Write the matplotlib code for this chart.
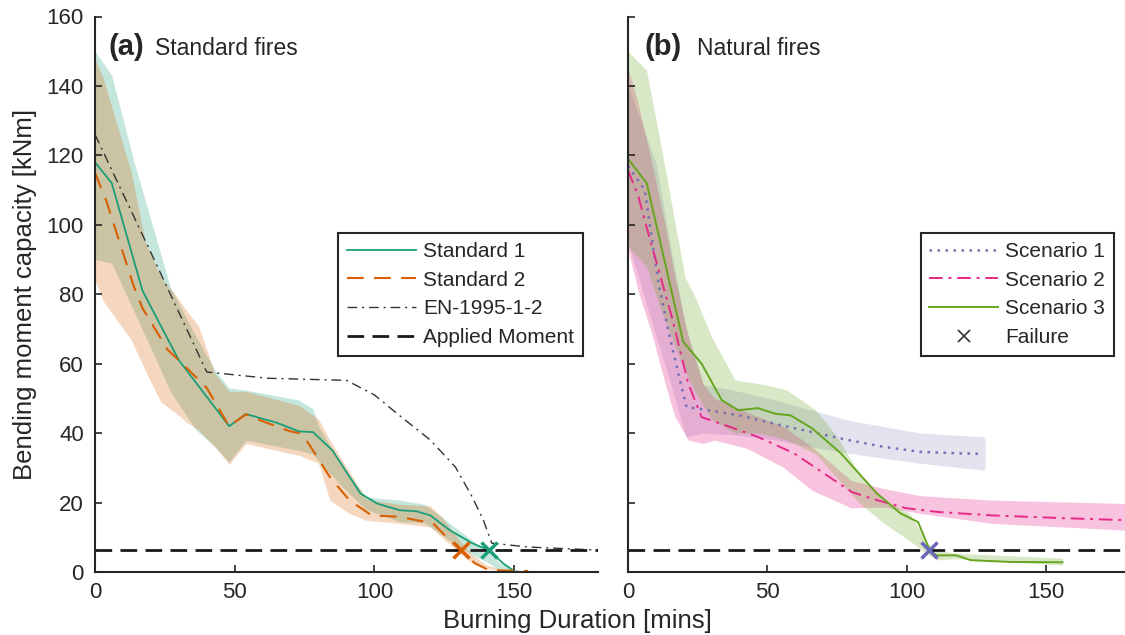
import matplotlib
matplotlib.use("Agg")
import matplotlib.pyplot as plt
from matplotlib.lines import Line2D

plt.rcParams["font.family"] = ["Liberation Sans", "DejaVu Sans"]
plt.rcParams["text.color"] = "#262626"
plt.rcParams["axes.labelcolor"] = "#262626"

# ---- (a) standard fires ----
std1_x = [0, 6, 17, 30, 48, 54, 65, 73, 78, 85, 95, 101, 109, 115, 120, 127, 135, 141, 146, 150]
std1_y = [118, 112, 81, 61, 42, 45.5, 43, 40.5, 40.3, 35, 22.6, 19.7, 17.8, 17.5, 16.3, 12, 8.3, 6.25, 2.5, 0.3]
std1_bx = [0, 6, 14, 27, 36, 43, 48, 54, 73, 78, 80, 88, 97, 109, 118, 127, 135, 141, 145, 149, 155]
std1_hi = [150, 143, 118, 82, 68, 58, 53, 52.4, 49.5, 47, 42, 31, 21.6, 20.7, 19.5, 14, 9.1, 5.4, 2.5, 1, 0]
std1_lo = [90, 89, 75, 52, 41, 36, 31.7, 38, 35, 34, 32, 25, 18, 14.5, 14.2, 9, 5, 2.5, 0.5, 0, 0]

std2_x = [0, 4, 14, 17, 26, 30, 40, 48, 54, 62, 70, 73, 76, 78, 84, 91, 99, 109, 121, 127, 131, 136, 141, 155]
std2_y = [115, 107, 82, 76, 64, 61, 53, 42, 45.4, 42.8, 40.5, 40, 37.5, 35, 27.4, 20.7, 16.3, 15.9, 14, 9.1, 6.25, 2.5, 0.5, 0.3]
std2_bx = [0, 3, 13, 18, 23.5, 28.6, 33, 37, 43, 48, 54, 73, 80, 84, 91, 97, 109, 120, 124, 130.5, 135, 140, 150]
std2_hi = [148, 142, 115, 95, 85, 80, 75, 71, 57, 52, 52, 48, 44, 38, 29, 21, 19.5, 19, 16, 9, 5, 2, 0]
std2_lo = [84, 78, 66.8, 58, 49, 46, 43, 41, 36, 31, 37, 33.6, 31.3, 20.7, 16.9, 14.9, 14, 13, 10.1, 5.4, 2.5, 1, 0]

en_x = [0, 20, 40, 62, 90, 100, 108, 120, 129, 135, 139, 142, 155, 180]
en_y = [126, 92, 57.6, 55.8, 55.2, 51, 45.7, 38, 30.2, 21.6, 14.9, 8.3, 7.2, 6.3]

applied_moment = 6.25
fail_std = [(141, "#1b9e77"), (131, "#d95f02")]

# ---- (b) natural fires ----
sc1_x = [0, 6, 11, 14.4, 18.6, 21, 28.8, 40, 53, 66, 79, 92, 105, 118, 127]
sc1_y = [117, 110, 83, 69.7, 55.3, 47.5, 46.6, 45.1, 42.6, 40.3, 38, 36, 34.6, 34.2, 34]
sc1_bx = [0, 10, 15, 20.8, 27, 40, 53, 66, 79, 105, 128]
sc1_hi = [140, 118, 95, 70, 54, 52, 49.5, 46.6, 43.7, 40, 38.9]
sc1_lo = [95, 68, 55, 38.9, 40, 39.4, 38, 36, 34.2, 31.3, 29.3]

sc2_x = [0, 3.7, 7.3, 15.7, 21.6, 26.4, 34.8, 46.6, 59.5, 68.6, 80.3, 89.3, 99.6, 111, 130.6, 156.5, 180]
sc2_y = [115.7, 108.2, 97.5, 73.5, 54.3, 44.6, 42.3, 38.9, 34.2, 29.3, 23, 20.7, 18.4, 17.3, 16.3, 15.5, 14.9]
sc2_bx = [0, 3.6, 8.5, 13.3, 16.8, 21.6, 27, 31, 42.7, 55.6, 66, 80, 91.8, 104.6, 130.6, 180]
sc2_hi = [145, 135, 118, 100, 85, 68, 54, 50, 46, 42, 36, 26.4, 24, 22, 20.7, 19.7]
sc2_lo = [93, 81, 68.7, 54.3, 44.7, 38, 37, 38, 35.6, 30.2, 23.5, 18.5, 18.7, 16.9, 14, 12]

sc3_x = [0, 6.7, 19.8, 26.4, 33.6, 39.5, 46.6, 52.7, 58.3, 66, 76.3, 89.3, 97.7, 104, 108.2, 110.6, 117.7, 122.9, 137, 155.8]
sc3_y = [119, 112, 66.3, 60, 49.5, 46.6, 47.2, 45.6, 45.1, 41.4, 34.2, 22.6, 16.9, 14.4, 6.25, 4.8, 4.8, 3.4, 2.9, 2.8]
sc3_bx = [0, 6.6, 12, 20.4, 24, 30, 38.4, 46.7, 52.7, 57, 67.4, 75, 82.8, 91.8, 101, 107.4, 111, 117.6, 155.8]
sc3_hi = [150, 144.6, 122, 85, 79.3, 67.7, 55.3, 54.3, 53.3, 52.4, 46.6, 38.9, 28.4, 20.7, 16.9, 8.2, 6.3, 5.4, 4]
sc3_lo = [93.7, 88, 75, 58, 52, 44, 40, 40, 39, 38, 34, 27, 20, 14, 9, 5, 3.5, 3.8, 2]

fail_nat = [(108, "#6a67b8")]

xticks = [0, 50, 100, 150]
yticks = [0, 20, 40, 60, 80, 100, 120, 140, 160]

C1, C2 = "#1b9e77", "#d95f02"
P1, P2, P3 = "#7570b3", "#e7298a", "#66a61e"
AX = "#262626"

fig = plt.figure(figsize=(11.25, 6.35), dpi=100)
ax1 = fig.add_axes([95 / 1125, 63 / 635, 503 / 1125, 555.5 / 635])
ax2 = fig.add_axes([628 / 1125, 63 / 635, 502 / 1125, 555.5 / 635])

for ax in (ax1, ax2):
    ax.set_xlim(0, 180)
    ax.set_ylim(0, 160)
    ax.set_xticks(xticks)
    ax.set_yticks(yticks)
    for s in ("top", "right"):
        ax.spines[s].set_visible(False)
    for s in ("left", "bottom"):
        ax.spines[s].set_linewidth(1.5)
        ax.spines[s].set_color(AX)
    ax.tick_params(direction="in", length=5, width=1.2, colors=AX,
                   labelsize=16, labelcolor=AX)
    ax.tick_params(axis="x", pad=7)
    ax.tick_params(axis="y", pad=8)
ax2.set_yticklabels([])

# shaded ranges
ax1.fill_between(std1_bx, std1_lo, std1_hi, color=C1, alpha=0.25, lw=0)
ax1.fill_between(std2_bx, std2_lo, std2_hi, color=C2, alpha=0.25, lw=0)
ax2.fill_between(sc1_bx, sc1_lo, sc1_hi, color=P1, alpha=0.2, lw=0)
ax2.fill_between(sc2_bx, sc2_lo, sc2_hi, color=P2, alpha=0.28, lw=0)
ax2.fill_between(sc3_bx, sc3_lo, sc3_hi, color=P3, alpha=0.25, lw=0)

# lines (a)
l1, = ax1.plot(std1_x, std1_y, color=C1, lw=1.3)
l2, = ax1.plot(std2_x, std2_y, color=C2, lw=1.5, dashes=(8, 5))
l3, = ax1.plot(en_x, en_y, color="#333333", lw=1.0, dashes=(7, 3.5, 1.5, 3.5))
l4 = ax1.axhline(applied_moment, color="#1a1a1a", lw=2.0, dashes=(6, 3))
for fx, fc in fail_std:
    ax1.plot([fx], [applied_moment], marker="x", ms=11, mew=2.5, color=fc, ls="none")

# lines (b)
m1, = ax2.plot(sc1_x, sc1_y, color=P1, lw=1.8, dashes=(1, 2.2))
m2, = ax2.plot(sc2_x, sc2_y, color=P2, lw=1.4, dashes=(7, 3, 1.5, 3))
m3, = ax2.plot(sc3_x, sc3_y, color=P3, lw=1.4)
ax2.axhline(applied_moment, color="#1a1a1a", lw=2.0, dashes=(6, 3))
for fx, fc in fail_nat:
    ax2.plot([fx], [applied_moment], marker="x", ms=11, mew=2.5, color=fc, ls="none")
m4 = Line2D([], [], color="#333333", marker="x", ms=9, mew=1.2, ls="none")

leg_kw = dict(fontsize=15, frameon=True, fancybox=False, framealpha=1,
              edgecolor="#262626", handlelength=3.3, handletextpad=0.35,
              labelspacing=0.47, borderpad=0.42, borderaxespad=0,
              loc="upper right")
lg1 = ax1.legend([l1, l2, l3, l4],
                 ["Standard 1", "Standard 2", "EN-1995-1-2", "Applied Moment"],
                 bbox_to_anchor=(0.970, 0.610), **leg_kw)
lg1.get_frame().set_linewidth(1.5)
lg2 = ax2.legend([m1, m2, m3, m4],
                 ["Scenario 1", "Scenario 2", "Scenario 3", "Failure"],
                 bbox_to_anchor=(0.968, 0.610), **leg_kw)
lg2.get_frame().set_linewidth(1.5)

# panel titles
ax1.text(0.026, 0.9307, "(a)", transform=ax1.transAxes, fontsize=21,
         fontweight="bold", va="baseline", ha="left")
ax1.text(0.119, 0.9307, "Standard fires", transform=ax1.transAxes,
         fontsize=16.5, va="baseline", ha="left")
ax2.text(0.032, 0.9307, "(b)", transform=ax2.transAxes, fontsize=21,
         fontweight="bold", va="baseline", ha="left")
ax2.text(0.137, 0.9307, "Natural fires", transform=ax2.transAxes,
         fontsize=16.5, va="baseline", ha="left")

fig.text(577 / 1125, 1 - 621 / 635, "Burning Duration [mins]", fontsize=18.5,
         ha="center", va="center")
fig.text(25.5 / 1125, 1 - 294 / 635, "Bending moment capacity [kNm]",
         fontsize=18.5, rotation=90, ha="center", va="center")

fig.savefig("out.png", dpi=100)
